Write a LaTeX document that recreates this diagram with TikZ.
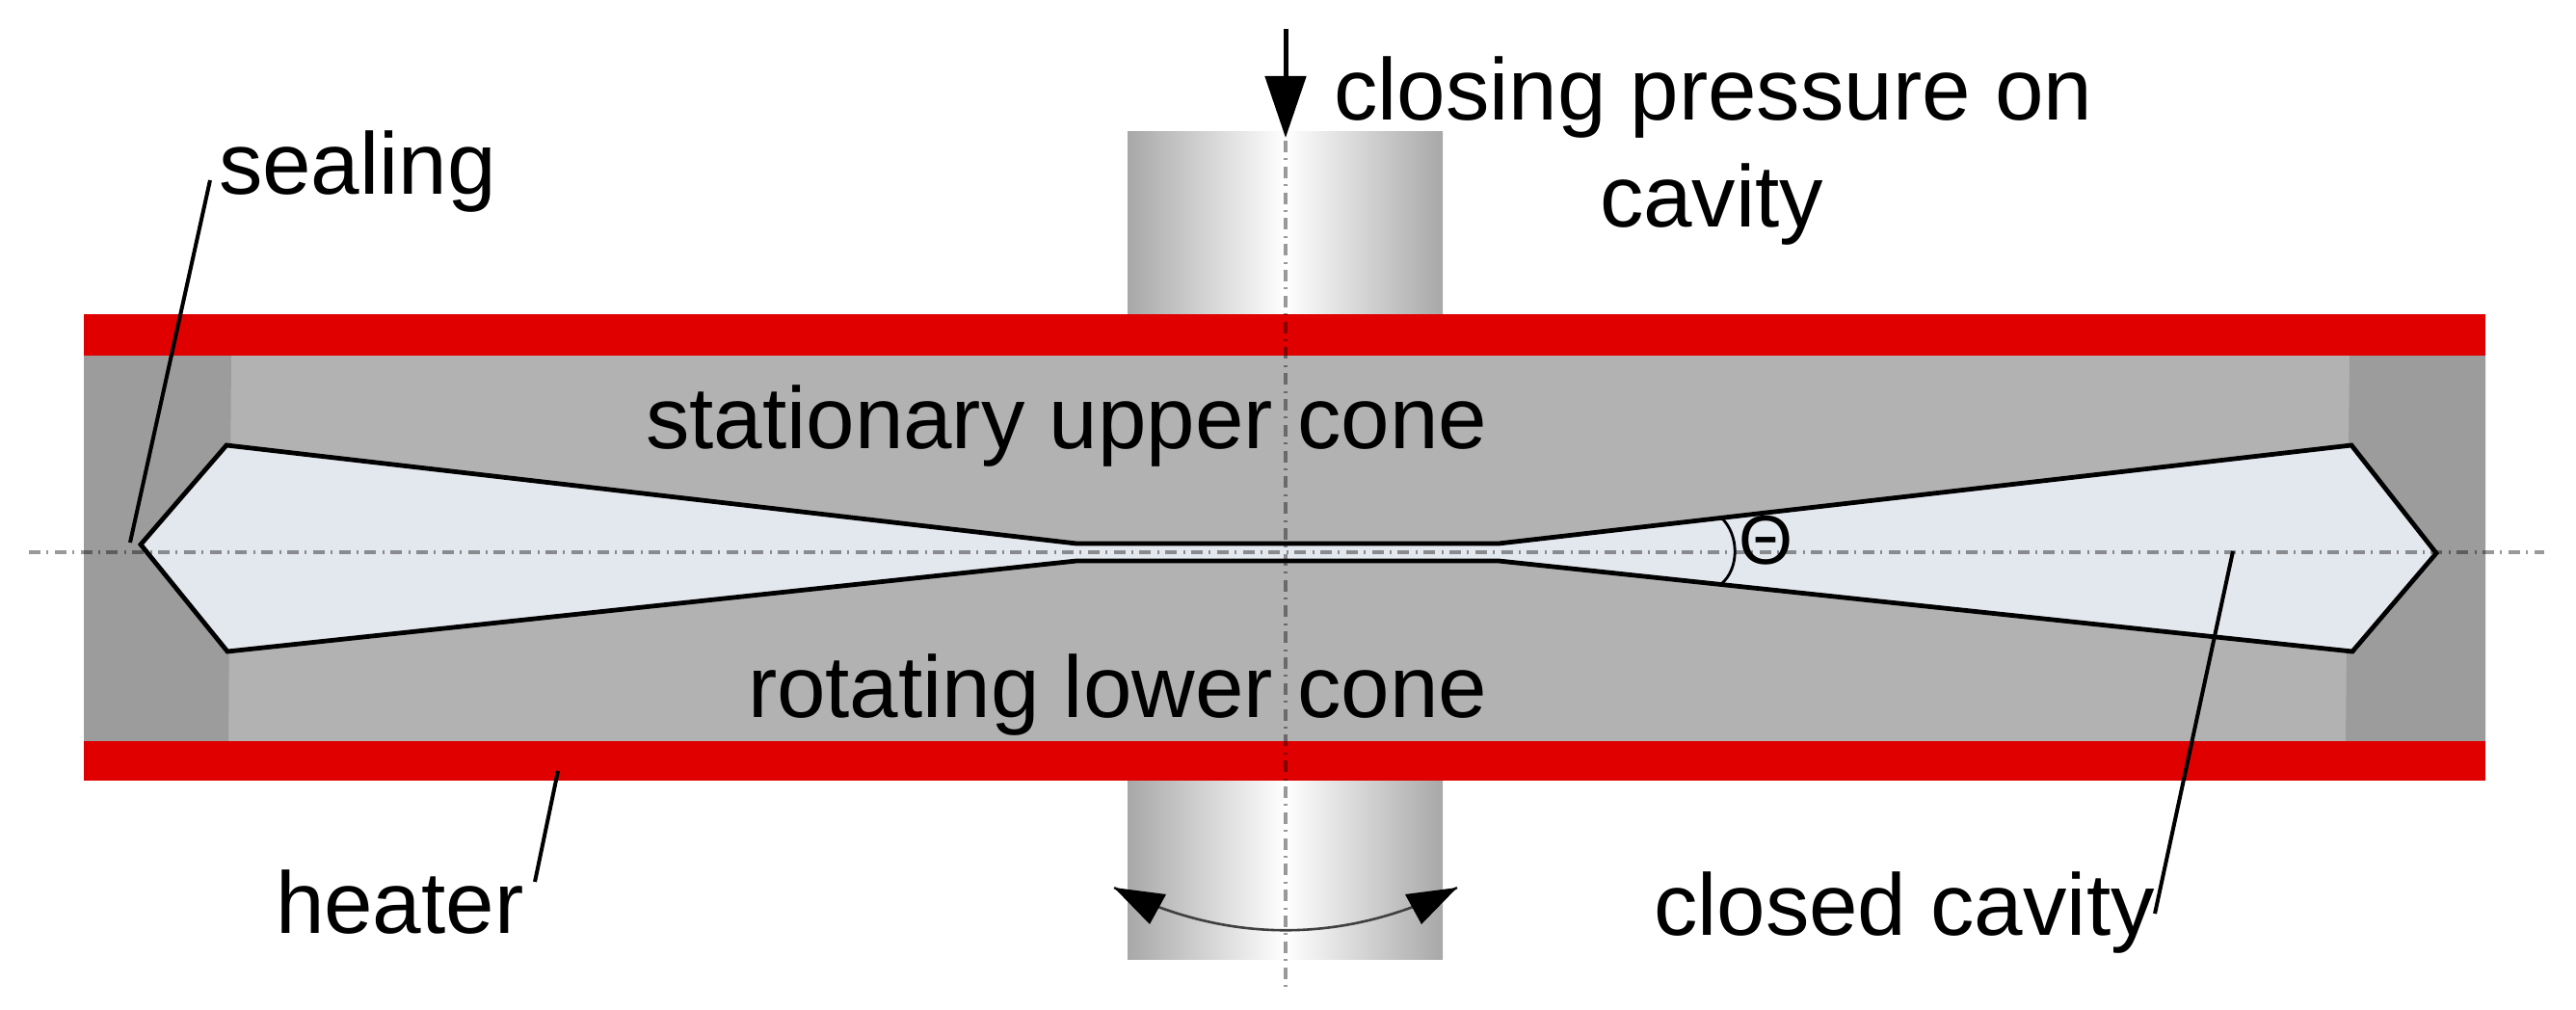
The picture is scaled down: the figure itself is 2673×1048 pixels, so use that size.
\documentclass[tikz,border=0pt]{standalone}
\usepackage{fontspec}
\setmainfont{Liberation Sans}
\usetikzlibrary{arrows.meta}
\definecolor{heatred}{HTML}{E00000}
\definecolor{conegray}{HTML}{B2B2B2}
\definecolor{sidegray}{HTML}{9C9C9C}
\definecolor{cavfill}{HTML}{E3E7EE}
\definecolor{shaftedge}{HTML}{A8A8A8}
\tikzset{
  px/.style={x=0.5pt,y=-0.5pt},
  lbl/.style={anchor=base west,inner sep=0pt,outer sep=0pt,font=\fontsize{45.4}{54}\selectfont,text=black},
  leader/.style={draw=black,line width=2pt},
  axisline/.style={draw=black,draw opacity=0.4,line width=1.6pt,dash pattern=on 6pt off 3.2pt on 1pt off 3.2pt},
  cavline/.style={draw=black,line width=2.4pt,line join=miter,fill=cavfill}
}
\begin{document}
\begin{tikzpicture}[px]
\useasboundingbox (0,0) rectangle (2673,1048);
% shaft
\fill[left color=shaftedge,right color=shaftedge,middle color=white] (1170,137) rectangle (1497,995);
% cone body and sides
\fill[conegray] (87,369) rectangle (2579,769);
\fill[sidegray] (87,369) -- (240,369) -- (237,769) -- (87,769) -- cycle;
\fill[sidegray] (2438,369) -- (2579,369) -- (2579,769) -- (2434,769) -- cycle;
% heaters
\fill[heatred] (87,326) rectangle (2579,369);
\fill[heatred] (87,769) rectangle (2579,810);
% cavity
\draw[cavline] (146,565) -- (235,462) -- (1117,564) -- (1555,564) -- (2440,462) -- (2528,574) -- (2441,676) -- (1555,582) -- (1117,582) -- (236,676) -- cycle;
% axes
\coordinate (axL) at (30,573);
\coordinate (axR) at (2640,573);
\coordinate (axT) at (1334,146);
\coordinate (axB) at (1334,1026);
\draw[axisline] (axL) -- (axR);
\draw[axisline] (axT) -- (axB);
% angle arc
\coordinate (thA) at (1786,537);
\coordinate (thB) at (1786,606);
\draw[draw=black,line width=1.4pt] (thA) .. controls (1805,555) and (1805,590) .. (thB);
% closing arrow
\coordinate (prS) at (1334,30);
\coordinate (prE) at (1334,143);
\draw[draw=black,line width=2.5pt,-{Triangle[length=32pt,width=21pt]}] (prS) -- (prE);
% rotation arrow
\coordinate (rotL) at (1156,921);
\coordinate (rotR) at (1512,921);
\draw[draw=black!75,line width=1.3pt] (rotL) .. controls (1273,980) and (1395,980) .. (rotR);
\fill[black] (rotL) -- (1210,928) -- (1193,959) -- cycle;
\fill[black] (rotR) -- (1458,928) -- (1475,959) -- cycle;
% labels
\node[lbl] (sealing) at (227,202) {sealing};
\node[lbl] (closing) at (1384,125) {closing pressure on};
\node[lbl] (cavityb) at (1660,236) {cavity};
\node[lbl] (upper) at (670,465) {stationary upper cone};
\node[lbl] (lower) at (776,744) {rotating lower cone};
\node[lbl] (heater) at (286,968) {heater};
\node[lbl] (closed) at (1716,970) {closed cavity};
\node[lbl,font=\fontsize{36}{42}\selectfont] (theta) at (1804,585) {Θ};
% leaders
\coordinate (seA) at (218,187);
\coordinate (seB) at (135,563);
\draw[leader] (seA) -- (seB);
\coordinate (heA) at (579,800);
\coordinate (heB) at (555,915);
\draw[leader] (heA) -- (heB);
\coordinate (ccA) at (2317,572);
\coordinate (ccB) at (2236,948);
\draw[leader] (ccA) -- (ccB);
\end{tikzpicture}
\end{document}
